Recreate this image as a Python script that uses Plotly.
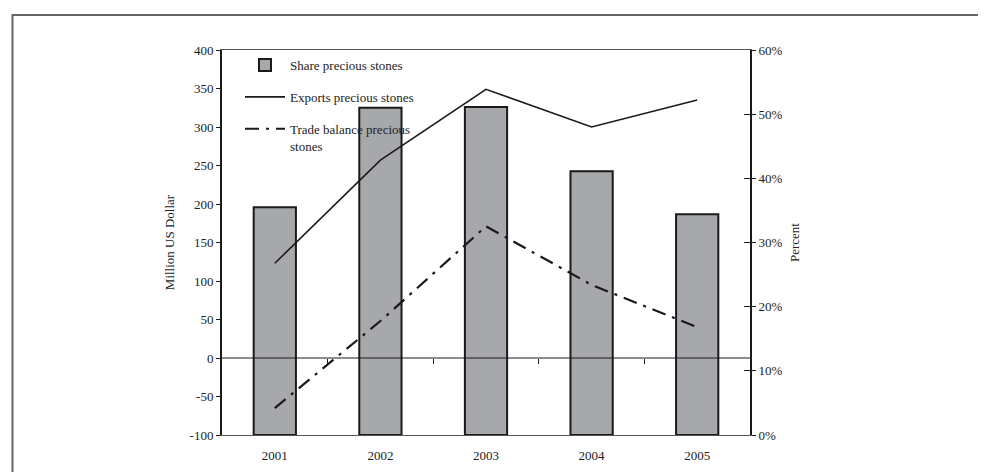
import plotly.graph_objects as go

years = ["2001", "2002", "2003", "2004", "2005"]
share_pct = [35.5, 51.0, 51.1, 41.1, 34.4]
exports = [123, 257, 349, 300, 335]
trade_balance = [-65, 48, 171, 95, 40]
boundaries = [0.5, 1.5, 2.5, 3.5]
left_ticks = [-100, -50, 0, 50, 100, 150, 200, 250, 300, 350, 400]
left_labels = ["-100", "-50", "0", "50", "100", "150", "200", "250", "300", "350", "400"]

W, H = 986, 472
L, R, T, B = 214, 742, 42, 427

FONT = "Liberation Serif"
TXT = "#222222"

fig = go.Figure()

fig.add_trace(go.Bar(
    x=years, y=share_pct, name="Share precious stones", yaxis="y",
    marker=dict(color="#a7a8ab", line=dict(color="#1a1a1a", width=2)),
    width=0.4, legendgroup="a",
))
fig.add_trace(go.Scatter(
    x=years, y=exports, name="Exports precious stones", yaxis="y2",
    mode="lines", line=dict(color="#1a1a1a", width=1.6), legendgroup="b",
))
fig.add_trace(go.Scatter(
    x=years, y=trade_balance, name="Trade balance precious<br>stones", yaxis="y2",
    mode="lines", line=dict(color="#1a1a1a", width=2.2, dash="14px,7px,3px,7px"),
    legendgroup="c",
))
# invisible helpers so the auxiliary axes are drawn
fig.add_trace(go.Scatter(x=[0], y=[0], xaxis="x2", yaxis="y2", mode="markers",
                         marker=dict(opacity=0), showlegend=False, hoverinfo="skip"))
fig.add_trace(go.Scatter(x=[years[0]], y=[0], yaxis="y3", mode="markers",
                         marker=dict(opacity=0), showlegend=False, hoverinfo="skip"))

pw, ph = R - L, B - T
def px_x(p):
    return (p - L) / pw
def px_y(p):
    return (B - p) / ph

fig.update_layout(
    width=W, height=H,
    margin=dict(l=L, r=W - R, t=T, b=H - B, pad=0),
    paper_bgcolor="white", plot_bgcolor="white",
    font=dict(family=FONT, size=13, color=TXT),
    showlegend=True,
    legend=dict(
        x=px_x(232), y=px_y(42), xanchor="left", yanchor="top",
        bgcolor="rgba(0,0,0,0)", font=dict(family=FONT, size=13, color=TXT),
        traceorder="grouped", tracegroupgap=12, itemwidth=40, valign="top",
    ),
    bargap=0.6,
    xaxis=dict(
        type="category", range=[-0.5, 4.5], showgrid=False, zeroline=False,
        showline=True, linecolor="#555555", linewidth=1, mirror=True,
        ticks="", tickfont=dict(family=FONT, size=13, color=TXT), ticklabelstandoff=8,
    ),
    xaxis2=dict(
        overlaying="x", anchor="free", position=px_y(350), type="linear",
        range=[-0.5, 4.5], tickmode="array", tickvals=boundaries,
        ticks="outside", ticklen=5, tickwidth=1, tickcolor="#1a1a1a",
        showticklabels=False, showgrid=False, zeroline=False, showline=False,
    ),
    yaxis=dict(
        side="right", range=[0, 60], dtick=10, ticksuffix="%",
        showgrid=False, zeroline=False, showline=True, linecolor="#1a1a1a",
        linewidth=2, ticks="outside", ticklen=4, tickwidth=1, tickcolor="#1a1a1a",
        tickfont=dict(family=FONT, size=13, color=TXT),
        title=dict(text="Percent", standoff=8, font=dict(family=FONT, size=13, color=TXT)),
    ),
    yaxis2=dict(
        overlaying="y", side="left", range=[-100, 400],
        tickmode="array", tickvals=left_ticks, ticktext=left_labels,
        showgrid=False, zeroline=False, showline=True, linecolor="#1a1a1a",
        linewidth=2, ticks="outside", ticklen=4, tickwidth=1, tickcolor="#1a1a1a",
        tickfont=dict(family=FONT, size=13, color=TXT),
        title=dict(text="Million US Dollar", standoff=12, font=dict(family=FONT, size=13, color=TXT)),
    ),
    yaxis3=dict(
        overlaying="y", side="right", range=[0, 60], dtick=10,
        showgrid=False, zeroline=False, showline=False, showticklabels=False,
        ticks="inside", ticklen=6, tickwidth=1, tickcolor="#1a1a1a",
    ),
    shapes=[
        dict(type="line", xref="paper", yref="y2", x0=0, x1=1, y0=0, y1=0,
             line=dict(color="#1a1a1a", width=1), layer="above"),
        dict(type="rect", xref="paper", yref="paper",
             x0=px_x(4.5), x1=px_x(1000), y0=px_y(7), y1=px_y(490),
             line=dict(color="#666666", width=2), layer="below"),
    ],
)

fig.write_html("out.html")
